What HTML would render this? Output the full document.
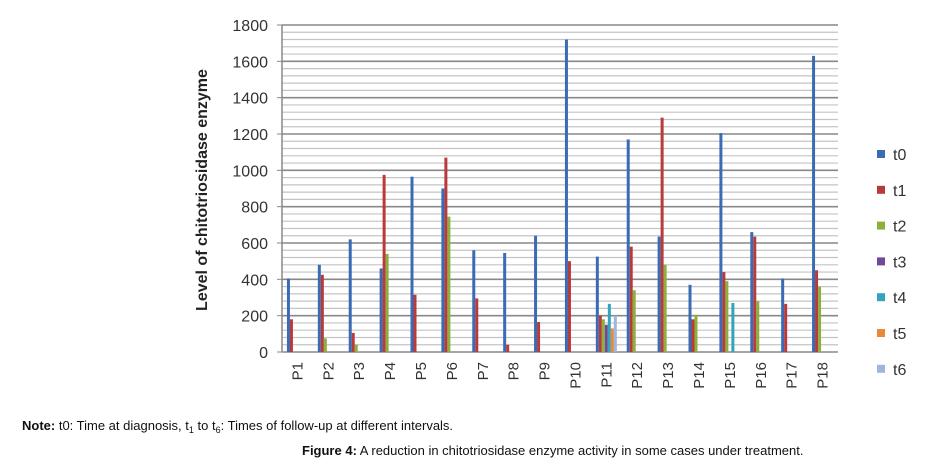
<!DOCTYPE html>
<html><head><meta charset="utf-8"><style>
body{margin:0;background:#fff;width:939px;height:464px;overflow:hidden;font-family:"Liberation Sans",Arial,sans-serif}
</style></head><body>
<svg width="939" height="464" id="svg" font-family="Liberation Sans, Arial, sans-serif">
<text x="207" y="190" transform="rotate(-90 207 190)" text-anchor="middle" font-size="16" font-weight="bold" fill="#222">Level of chitotriosidase enzyme</text>
<text x="22" y="430" font-size="13" fill="#111"><tspan font-weight="bold">Note:</tspan> t0: Time at diagnosis, t<tspan font-size="9" dy="3">1</tspan><tspan dy="-3"> to t</tspan><tspan font-size="9" dy="3">6</tspan><tspan dy="-3">: Times of follow-up at different intervals.</tspan></text>
<text x="302" y="455" font-size="13" fill="#111"><tspan font-weight="bold">Figure 4:</tspan> A reduction in chitotriosidase enzyme activity in some cases under treatment.</text>
</svg>
<script>
const categories=["P1","P2","P3","P4","P5","P6","P7","P8","P9","P10","P11","P12","P13","P14","P15","P16","P17","P18"];
const seriesNames=["t0","t1","t2","t3","t4","t5","t6"];
const t0=[405,480,620,460,965,900,560,545,640,1720,525,1170,635,370,1205,660,405,1630];
const t1=[180,425,105,975,315,1070,295,40,165,500,200,580,1290,180,440,635,265,450];
const t2=[0,75,40,540,0,745,0,0,0,0,180,340,480,205,390,280,0,360];
const t3=[0,0,0,0,0,0,0,0,0,0,150,0,0,0,0,0,0,0];
const t4=[0,0,0,0,0,0,0,0,0,0,265,0,0,0,270,0,0,0];
const t5=[0,0,0,0,0,0,0,0,0,0,130,0,0,0,0,0,0,0];
const t6=[0,0,0,0,0,0,0,0,0,0,200,0,0,0,0,0,0,0];
const yTicks=[0,200,400,600,800,1000,1200,1400,1600,1800];
const series=[t0,t1,t2,t3,t4,t5,t6];
const colors=["#3a6cb5","#b83a3a","#8cb03c","#6e4a98","#34a3bd","#e8893a","#9fb5dd"];
const svg=document.getElementById('svg');const NS="http://www.w3.org/2000/svg";
const X0=282,X1=838,Y0=352,Y1=25,YMAX=1800;
const y=v=>Y0-(v/YMAX)*(Y0-Y1);
const cw=(X1-X0)/categories.length;
const x=i=>X0+i*cw;
function mk(t,a){const e=document.createElementNS(NS,t);for(const k in a)e.setAttribute(k,a[k]);svg.appendChild(e);return e;}
// minor grid every 40
for(let v=40;v<=YMAX;v+=40){const l=mk('line',{x1:X0,x2:X1,y1:y(v),y2:y(v),stroke:(v%200===0)?'#888':'#c4c4c4','stroke-width':(v%200===0)?1.6:1.2});

}
const ax=mk('line',{x1:X0,x2:X0,y1:Y1,y2:Y0,stroke:'#888','stroke-width':1.5});


const bx=mk('line',{x1:X0,x2:X1,y1:Y0,y2:Y0,stroke:'#888','stroke-width':1.5});


yTicks.forEach(v=>{const tk=mk('line',{x1:X0-5,x2:X0,y1:y(v),y2:y(v),stroke:'#888'});


const t=mk('text',{x:X0-14,y:y(v)+6,'text-anchor':'end','font-size':16,fill:'#333'});t.textContent=v;

});
const bw=3;
categories.forEach((c,i)=>{
 const gx=x(i)+cw/2-10.5;
 series.forEach((s,j)=>{if(s[i]<=0)return;
  const r=mk('rect',{x:gx+j*bw,y:y(s[i]),width:bw,height:Y0-y(s[i]),fill:colors[j]});
  
  });
 const cx=x(i)+cw/2+5;
 const t=mk('text',{x:cx,y:362,transform:`rotate(-90 ${cx} 362)`,'text-anchor':'end','font-size':15,fill:'#333'});t.textContent=c;
 
 
});
seriesNames.forEach((n,j)=>{const ly=154+j*35.8;
 const g=mk('g',{});
 
 
 const r=document.createElementNS(NS,'rect');r.setAttribute('x',877);r.setAttribute('y',ly-4);r.setAttribute('width',8);r.setAttribute('height',8);r.setAttribute('fill',colors[j]);g.appendChild(r);
 const t=document.createElementNS(NS,'text');t.setAttribute('x',893);t.setAttribute('y',ly+6);t.setAttribute('font-size',16);t.setAttribute('fill','#333');t.textContent=n;g.appendChild(t);});
</script>
</body></html>
